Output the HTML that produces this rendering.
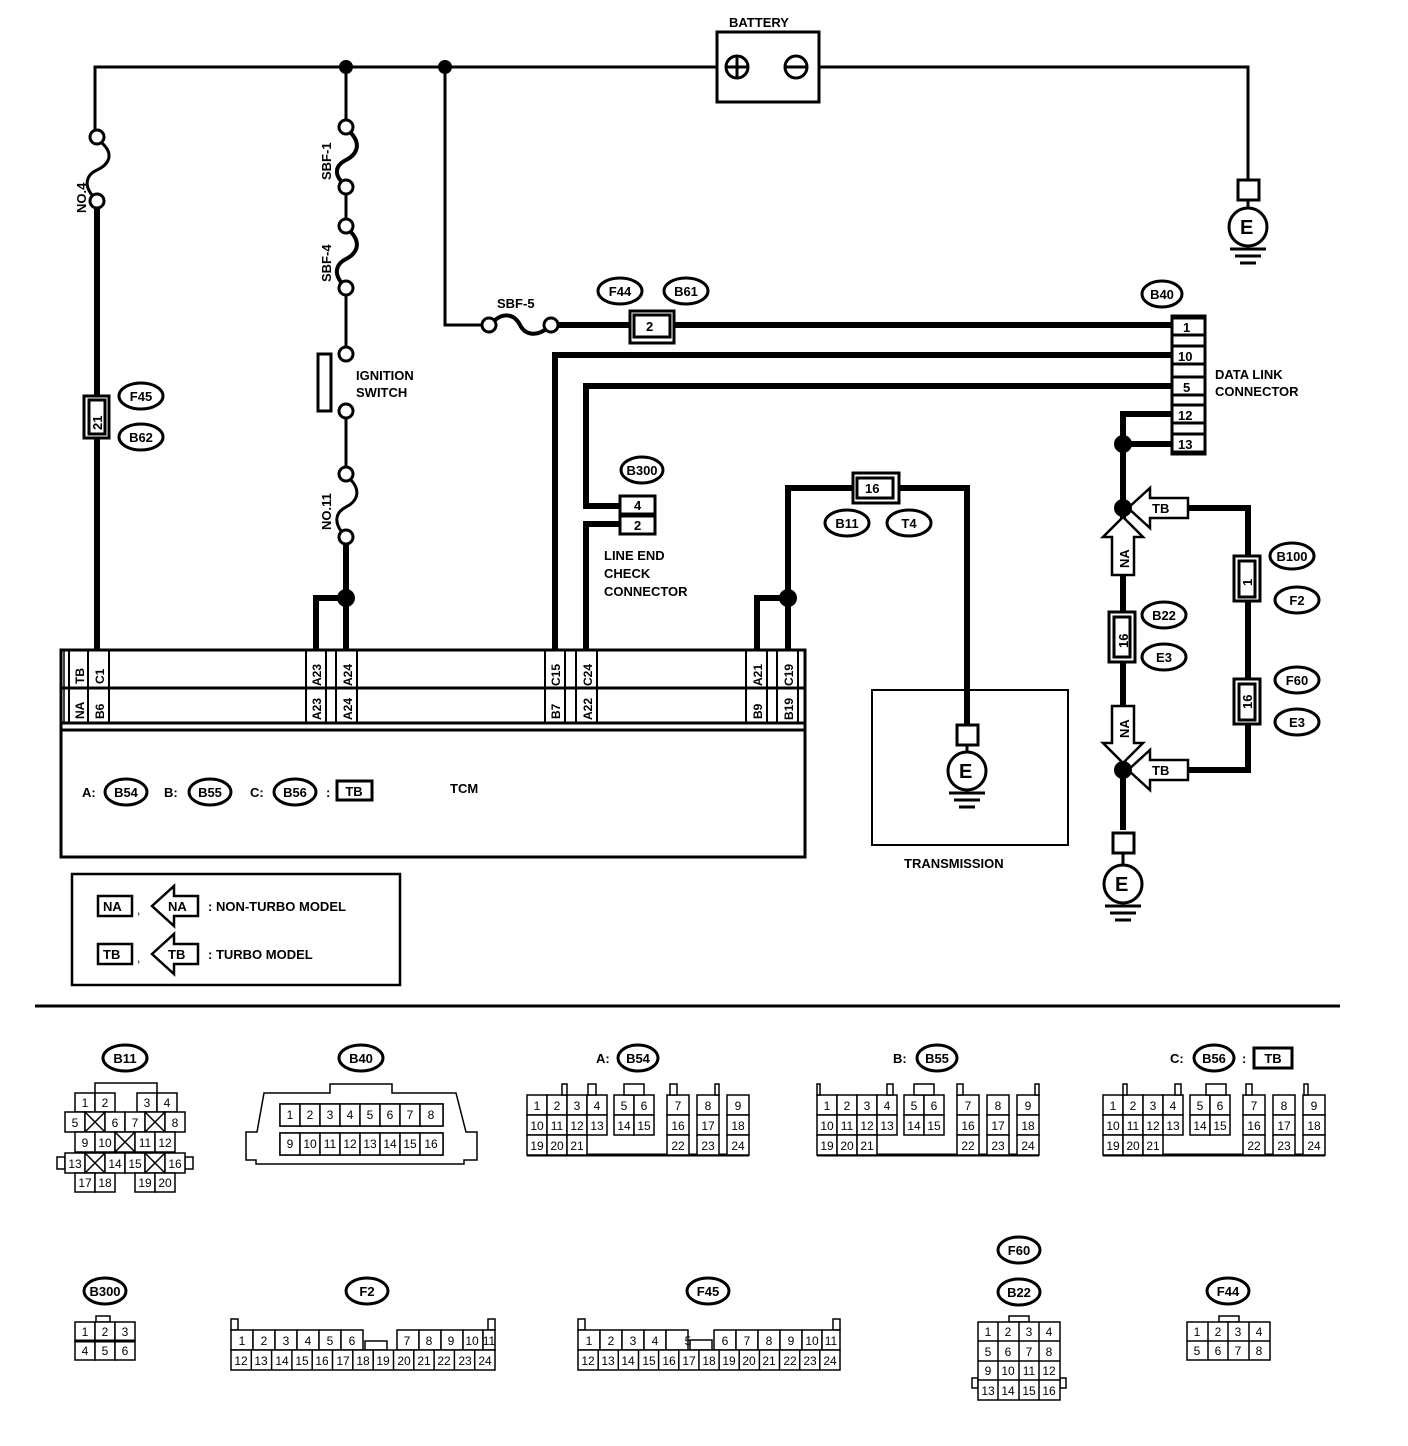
<!DOCTYPE html>
<html><head><meta charset="utf-8"><style>
html,body{margin:0;padding:0;background:#fff}
svg{display:block}
text{font-family:"Liberation Sans",sans-serif;font-weight:bold;fill:#000}
.t{font-size:13px}
.s{font-size:12px;font-weight:normal}
.c rect{fill:#fff;stroke:#000;stroke-width:1.5}
.c text{font-size:12px;font-weight:normal;text-anchor:middle}
</style></head><body>
<svg width="1408" height="1446" viewBox="0 0 1408 1446" xmlns="http://www.w3.org/2000/svg">
<g fill="none" stroke="#000">
<polyline points="95,130 95,67 717,67" stroke-width="3"/>
<polyline points="819,67 1248,67 1248,180" stroke-width="3"/>
<line x1="346" y1="67" x2="346" y2="120" stroke-width="3"/>
<polyline points="445,67 445,325 482,325" stroke-width="3"/>
<circle cx="97" cy="137" r="7" stroke-width="3" fill="#fff"/>
<circle cx="97" cy="201" r="7" stroke-width="3" fill="#fff"/>
<path d="M102,143 C115,155 108,165 97,170 C86,175 84,185 92,195" stroke-width="3"/>
<circle cx="346" cy="127" r="7" stroke-width="3" fill="#fff"/>
<circle cx="346" cy="187" r="7" stroke-width="3" fill="#fff"/>
<path d="M351,133 C362,145 356,155 346,160 C336,165 334,173 341,181" stroke-width="4"/>
<line x1="346" y1="194" x2="346" y2="219" stroke-width="3"/>
<circle cx="346" cy="226" r="7" stroke-width="3" fill="#fff"/>
<circle cx="346" cy="288" r="7" stroke-width="3" fill="#fff"/>
<path d="M351,232 C362,244 356,254 346,259 C336,264 334,273 341,282" stroke-width="4"/>
<line x1="346" y1="295" x2="346" y2="347" stroke-width="3"/>
<circle cx="346" cy="354" r="7" stroke-width="3" fill="#fff"/>
<circle cx="346" cy="411" r="7" stroke-width="3" fill="#fff"/>
<rect x="318" y="354" width="13" height="57" stroke-width="3" fill="#fff"/>
<line x1="346" y1="418" x2="346" y2="467" stroke-width="3"/>
<circle cx="346" cy="474" r="7" stroke-width="3" fill="#fff"/>
<circle cx="346" cy="537" r="7" stroke-width="3" fill="#fff"/>
<path d="M351,480 C362,492 356,502 346,507 C336,512 334,521 341,531" stroke-width="3"/>
<circle cx="489" cy="325" r="7" stroke-width="3" fill="#fff"/>
<circle cx="551" cy="325" r="7" stroke-width="3" fill="#fff"/>
<path d="M495,320 C505,312 515,315 520,325 C525,335 535,336 545,330" stroke-width="4"/>
<g stroke-width="6">
<line x1="97" y1="208" x2="97" y2="650"/>
<line x1="346" y1="544" x2="346" y2="650"/>
<polyline points="346,598 316,598 316,650"/>
<line x1="558" y1="325" x2="1172" y2="325"/>
<polyline points="1172,355 555,355 555,650"/>
<polyline points="1172,386 586,386 586,506 620,506"/>
<polyline points="620,524 586,524 586,650"/>
<polyline points="1172,414 1123,414 1123,830"/>
<line x1="1123" y1="444" x2="1172" y2="444"/>
<polyline points="1185,508 1248,508 1248,770 1185,770"/>
<polyline points="757,650 757,598 788,598"/>
<polyline points="788,650 788,488 967,488 967,725"/>
</g>
<rect x="717" y="32" width="102" height="70" stroke-width="3" fill="#fff"/>
<circle cx="737" cy="67" r="11" stroke-width="3"/>
<line x1="727" y1="67" x2="747" y2="67" stroke-width="3"/><line x1="737" y1="57" x2="737" y2="77" stroke-width="3"/>
<circle cx="796" cy="67" r="11" stroke-width="3"/>
<line x1="786" y1="67" x2="806" y2="67" stroke-width="3"/>
<g stroke-width="3">
<rect x="1238" y="180" width="21" height="20" fill="#fff"/><line x1="1248" y1="200" x2="1248" y2="208"/>
<circle cx="1248" cy="227" r="19" fill="#fff"/>
<line x1="1230" y1="249" x2="1266" y2="249"/><line x1="1235" y1="256" x2="1261" y2="256"/><line x1="1240" y1="263" x2="1256" y2="263"/>
<rect x="957" y="725" width="21" height="20" fill="#fff"/><line x1="967" y1="745" x2="967" y2="751"/>
<circle cx="967" cy="771" r="19" fill="#fff"/>
<line x1="949" y1="793" x2="985" y2="793"/><line x1="954" y1="800" x2="980" y2="800"/><line x1="959" y1="807" x2="975" y2="807"/>
<rect x="1113" y="833" width="21" height="20" fill="#fff"/><line x1="1123" y1="853" x2="1123" y2="864"/>
<circle cx="1123" cy="884" r="19" fill="#fff"/>
<line x1="1105" y1="906" x2="1141" y2="906"/><line x1="1110" y1="913" x2="1136" y2="913"/><line x1="1115" y1="920" x2="1131" y2="920"/>
</g>
<g stroke-width="3" fill="#fff">
<rect x="84" y="396" width="25" height="42"/><rect x="89" y="400" width="16" height="34"/>
<rect x="630" y="311" width="44" height="32"/><rect x="634" y="315" width="36" height="22"/>
<rect x="853" y="473" width="46" height="30"/><rect x="857" y="478" width="36" height="20"/>
<rect x="1109" y="612" width="26" height="50"/><rect x="1114" y="617" width="16" height="40"/>
<rect x="1234" y="556" width="26" height="45"/><rect x="1239" y="561" width="16" height="36"/>
<rect x="1234" y="679" width="26" height="45"/><rect x="1239" y="684" width="16" height="36"/>
<rect x="620" y="496" width="35" height="18"/><rect x="620" y="516" width="35" height="18"/>
<rect x="1172" y="316" width="33" height="138"/>
<rect x="1172" y="318" width="33" height="17"/><rect x="1172" y="346" width="33" height="18"/><rect x="1172" y="377" width="33" height="18"/><rect x="1172" y="405" width="33" height="18"/><rect x="1172" y="434" width="33" height="18"/>
</g>
<g stroke-width="2.5" fill="#fff">
<path d="M1128,508 L1150,488 L1150,498 L1188,498 L1188,518 L1150,518 L1150,528 Z"/>
<path d="M1128,770 L1150,750 L1150,760 L1188,760 L1188,780 L1150,780 L1150,790 Z"/>
<path d="M1123,517 L1143,537 L1134,537 L1134,575 L1112,575 L1112,537 L1103,537 Z"/>
<path d="M1123,763 L1143,743 L1134,743 L1134,706 L1112,706 L1112,743 L1103,743 Z"/>
</g>
<g stroke-width="3" fill="#fff">
<ellipse cx="141" cy="396" rx="22" ry="13"/><ellipse cx="141" cy="437" rx="22" ry="13"/>
<ellipse cx="620" cy="291" rx="22" ry="13"/><ellipse cx="686" cy="291" rx="22" ry="13"/>
<ellipse cx="1162" cy="294" rx="20" ry="13"/>
<ellipse cx="642" cy="470" rx="21" ry="13"/>
<ellipse cx="847" cy="523" rx="22" ry="13"/><ellipse cx="909" cy="523" rx="22" ry="13"/>
<ellipse cx="1292" cy="556" rx="22" ry="13"/><ellipse cx="1297" cy="600" rx="22" ry="13"/>
<ellipse cx="1164" cy="615" rx="22" ry="13"/><ellipse cx="1164" cy="657" rx="22" ry="13"/>
<ellipse cx="1297" cy="680" rx="22" ry="13"/><ellipse cx="1297" cy="722" rx="22" ry="13"/>
<ellipse cx="126" cy="792" rx="21" ry="13"/><ellipse cx="210" cy="792" rx="21" ry="13"/><ellipse cx="295" cy="792" rx="21" ry="13"/>
<ellipse cx="125" cy="1058" rx="22" ry="13"/><ellipse cx="361" cy="1058" rx="22" ry="13"/>
<ellipse cx="638" cy="1058" rx="20" ry="13"/><ellipse cx="937" cy="1058" rx="20" ry="13"/><ellipse cx="1214" cy="1058" rx="20" ry="13"/>
<ellipse cx="105" cy="1291" rx="21" ry="13"/><ellipse cx="367" cy="1291" rx="21" ry="13"/><ellipse cx="708" cy="1291" rx="21" ry="13"/>
<ellipse cx="1019" cy="1250" rx="21" ry="13"/><ellipse cx="1019" cy="1292" rx="21" ry="13"/><ellipse cx="1228" cy="1291" rx="21" ry="13"/>
</g>
<g stroke-width="3" fill="#fff">
<rect x="337" y="781" width="35" height="19"/>
<rect x="1254" y="1048" width="38" height="20"/>
</g>
<rect x="61" y="650" width="744" height="207" stroke-width="3"/>
<line x1="61" y1="688" x2="805" y2="688" stroke-width="3"/>
<line x1="61" y1="723" x2="805" y2="723" stroke-width="3"/>
<line x1="61" y1="730" x2="805" y2="730" stroke-width="3"/>
<line x1="64" y1="650" x2="64" y2="723" stroke-width="1.5"/>
<g stroke-width="2">
<line x1="69" y1="650" x2="69" y2="723"/><line x1="88" y1="650" x2="88" y2="723"/><line x1="109" y1="650" x2="109" y2="723"/>
<line x1="306" y1="650" x2="306" y2="723"/><line x1="326" y1="650" x2="326" y2="723"/><line x1="336" y1="650" x2="336" y2="723"/><line x1="357" y1="650" x2="357" y2="723"/>
<line x1="545" y1="650" x2="545" y2="723"/><line x1="565" y1="650" x2="565" y2="723"/><line x1="576" y1="650" x2="576" y2="723"/><line x1="597" y1="650" x2="597" y2="723"/>
<line x1="746" y1="650" x2="746" y2="723"/><line x1="767" y1="650" x2="767" y2="723"/><line x1="777" y1="650" x2="777" y2="723"/><line x1="798" y1="650" x2="798" y2="723"/>
</g>
<rect x="872" y="690" width="196" height="155" stroke-width="2"/>
<rect x="72" y="874" width="328" height="111" stroke-width="2.5"/>
<g stroke-width="2.5" fill="#fff">
<rect x="98" y="896" width="34" height="20"/>
<path d="M152,906 L174,886 L174,896 L198,896 L198,916 L174,916 L174,926 Z"/>
<rect x="98" y="944" width="34" height="20"/>
<path d="M152,954 L174,934 L174,944 L198,944 L198,964 L174,964 L174,974 Z"/>
</g>
<line x1="35" y1="1006" x2="1340" y2="1006" stroke-width="3"/>
</g>
<g fill="#000">
<circle cx="346" cy="67" r="7"/><circle cx="445" cy="67" r="7"/>
<circle cx="346" cy="598" r="9"/><circle cx="788" cy="598" r="9"/>
<circle cx="1123" cy="444" r="9"/><circle cx="1123" cy="508" r="9"/><circle cx="1123" cy="770" r="9"/>
</g>
<text x="729" y="27" class="t">BATTERY</text>
<text class="t" transform="translate(86,213) rotate(-90)">NO.4</text>
<text class="t" transform="translate(331,180) rotate(-90)">SBF-1</text>
<text class="t" transform="translate(331,282) rotate(-90)">SBF-4</text>
<text class="t" transform="translate(331,530) rotate(-90)">NO.11</text>
<text x="356" y="380" class="t">IGNITION</text><text x="356" y="397" class="t">SWITCH</text>
<text x="497" y="308" class="t">SBF-5</text>
<text x="646" y="331" class="t">2</text>
<text x="1183" y="332" class="t">1</text><text x="1178" y="361" class="t">10</text><text x="1183" y="392" class="t">5</text><text x="1178" y="420" class="t">12</text><text x="1178" y="449" class="t">13</text>
<text x="1215" y="379" class="t">DATA LINK</text><text x="1215" y="396" class="t">CONNECTOR</text>
<text x="634" y="510" class="t">4</text><text x="634" y="530" class="t">2</text>
<text x="604" y="560" class="t">LINE END</text><text x="604" y="578" class="t">CHECK</text><text x="604" y="596" class="t">CONNECTOR</text>
<text x="865" y="493" class="t">16</text>
<text x="904" y="868" class="t">TRANSMISSION</text>
<text x="959" y="778" style="font-size:20px">E</text><text x="1240" y="234" style="font-size:20px">E</text><text x="1115" y="891" style="font-size:20px">E</text>
<text class="t" transform="translate(102,430) rotate(-90)">21</text>
<text class="t" transform="translate(1128,648) rotate(-90)">16</text>
<text class="t" transform="translate(1252,586) rotate(-90)">1</text>
<text class="t" transform="translate(1252,709) rotate(-90)">16</text>
<text x="1152" y="513" class="t">TB</text><text x="1152" y="775" class="t">TB</text>
<text class="t" transform="translate(1129,568) rotate(-90)">NA</text>
<text class="t" transform="translate(1129,738) rotate(-90)">NA</text>
<g class="t" text-anchor="middle">
<text x="141" y="401">F45</text><text x="141" y="442">B62</text>
<text x="620" y="296">F44</text><text x="686" y="296">B61</text>
<text x="1162" y="299">B40</text><text x="642" y="475">B300</text>
<text x="847" y="528">B11</text><text x="909" y="528">T4</text>
<text x="1292" y="561">B100</text><text x="1297" y="605">F2</text>
<text x="1164" y="620">B22</text><text x="1164" y="662">E3</text>
<text x="1297" y="685">F60</text><text x="1297" y="727">E3</text>
<text x="126" y="797">B54</text><text x="210" y="797">B55</text><text x="295" y="797">B56</text><text x="354" y="796">TB</text>
<text x="125" y="1063">B11</text><text x="361" y="1063">B40</text><text x="638" y="1063">B54</text><text x="937" y="1063">B55</text><text x="1214" y="1063">B56</text><text x="1273" y="1063">TB</text>
<text x="105" y="1296">B300</text><text x="367" y="1296">F2</text><text x="708" y="1296">F45</text>
<text x="1019" y="1255">F60</text><text x="1019" y="1297">B22</text><text x="1228" y="1296">F44</text>
</g>
<text x="82" y="797" class="t">A:</text><text x="164" y="797" class="t">B:</text><text x="250" y="797" class="t">C:</text><text x="326" y="797" class="t">:</text>
<text x="450" y="793" class="t">TCM</text>
<text x="596" y="1063" class="t">A:</text><text x="893" y="1063" class="t">B:</text><text x="1170" y="1063" class="t">C:</text><text x="1242" y="1063" class="t">:</text>
<g style="font-size:12px;font-weight:bold">
<text transform="translate(84,684) rotate(-90)">TB</text><text transform="translate(104,684) rotate(-90)">C1</text>
<text transform="translate(84,719) rotate(-90)">NA</text><text transform="translate(104,719) rotate(-90)">B6</text>
<text transform="translate(321,686) rotate(-90)">A23</text><text transform="translate(352,686) rotate(-90)">A24</text>
<text transform="translate(321,720) rotate(-90)">A23</text><text transform="translate(352,720) rotate(-90)">A24</text>
<text transform="translate(560,686) rotate(-90)">C15</text><text transform="translate(592,686) rotate(-90)">C24</text>
<text transform="translate(560,719) rotate(-90)">B7</text><text transform="translate(592,720) rotate(-90)">A22</text>
<text transform="translate(762,686) rotate(-90)">A21</text><text transform="translate(793,686) rotate(-90)">C19</text>
<text transform="translate(762,719) rotate(-90)">B9</text><text transform="translate(793,720) rotate(-90)">B19</text>
</g>
<text x="103" y="911" class="t">NA</text><text x="168" y="911" class="t">NA</text><text x="137" y="914" class="s">,</text>
<text x="103" y="959" class="t">TB</text><text x="168" y="959" class="t">TB</text><text x="137" y="962" class="s">,</text>
<text x="208" y="911" class="t">: NON-TURBO MODEL</text>
<text x="208" y="959" class="t">: TURBO MODEL</text>

<g class="c">
<polyline points="95,1093 95,1083 157,1083 157,1093" fill="none" stroke="#000" stroke-width="1.5"/>
<rect x="75" y="1093" width="20" height="19"/><rect x="95" y="1093" width="20" height="19"/><rect x="137" y="1093" width="20" height="19"/><rect x="157" y="1093" width="20" height="19"/>
<text x="85" y="1107">1</text><text x="105" y="1107">2</text><text x="147" y="1107">3</text><text x="167" y="1107">4</text>
<rect x="65" y="1112" width="20" height="20"/><rect x="85" y="1112" width="20" height="20"/><rect x="105" y="1112" width="20" height="20"/><rect x="125" y="1112" width="20" height="20"/><rect x="145" y="1112" width="20" height="20"/><rect x="165" y="1112" width="20" height="20"/>
<text x="75" y="1127">5</text><text x="115" y="1127">6</text><text x="135" y="1127">7</text><text x="175" y="1127">8</text>
<rect x="75" y="1132" width="20" height="20"/><rect x="95" y="1132" width="20" height="20"/><rect x="115" y="1132" width="20" height="20"/><rect x="135" y="1132" width="20" height="20"/><rect x="155" y="1132" width="20" height="20"/>
<text x="85" y="1147">9</text><text x="105" y="1147">10</text><text x="145" y="1147">11</text><text x="165" y="1147">12</text>
<rect x="57" y="1157" width="8" height="12"/><rect x="185" y="1157" width="8" height="12"/>
<rect x="65" y="1153" width="20" height="20"/><rect x="85" y="1153" width="20" height="20"/><rect x="105" y="1153" width="20" height="20"/><rect x="125" y="1153" width="20" height="20"/><rect x="145" y="1153" width="20" height="20"/><rect x="165" y="1153" width="20" height="20"/>
<text x="75" y="1168">13</text><text x="115" y="1168">14</text><text x="135" y="1168">15</text><text x="175" y="1168">16</text>
<rect x="75" y="1173" width="20" height="19"/><rect x="95" y="1173" width="20" height="19"/><rect x="135" y="1173" width="20" height="19"/><rect x="155" y="1173" width="20" height="19"/>
<text x="85" y="1187">17</text><text x="105" y="1187">18</text><text x="145" y="1187">19</text><text x="165" y="1187">20</text>
<g stroke="#000" stroke-width="1.5">
<path d="M85,1112 L105,1132 M105,1112 L85,1132 M145,1112 L165,1132 M165,1112 L145,1132 M115,1132 L135,1152 M135,1132 L115,1152 M85,1153 L105,1173 M105,1153 L85,1173 M145,1153 L165,1173 M165,1153 L145,1173"/>
</g>
</g>
<g class="c">
<path d="M264,1093 L330,1093 L330,1084 L392,1084 L392,1093 L456,1093 L466,1132 L477,1132 L477,1160 L464,1160 L464,1164 L256,1164 L256,1160 L246,1160 L246,1132 L257,1132 Z" fill="none" stroke="#000" stroke-width="1.5"/>
<rect x="280" y="1104" width="163" height="22"/><rect x="280" y="1133" width="163" height="22"/>
<rect x="280" y="1104" width="20" height="22"/><rect x="300" y="1104" width="20" height="22"/><rect x="320" y="1104" width="20" height="22"/><rect x="340" y="1104" width="20" height="22"/><rect x="360" y="1104" width="20" height="22"/><rect x="380" y="1104" width="20" height="22"/><rect x="400" y="1104" width="20" height="22"/><rect x="420" y="1104" width="23" height="22"/>
<rect x="280" y="1133" width="20" height="22"/><rect x="300" y="1133" width="20" height="22"/><rect x="320" y="1133" width="20" height="22"/><rect x="340" y="1133" width="20" height="22"/><rect x="360" y="1133" width="20" height="22"/><rect x="380" y="1133" width="20" height="22"/><rect x="400" y="1133" width="20" height="22"/><rect x="420" y="1133" width="23" height="22"/>
<text x="290" y="1119">1</text><text x="310" y="1119">2</text><text x="330" y="1119">3</text><text x="350" y="1119">4</text><text x="370" y="1119">5</text><text x="390" y="1119">6</text><text x="410" y="1119">7</text><text x="431" y="1119">8</text>
<text x="290" y="1148">9</text><text x="310" y="1148">10</text><text x="330" y="1148">11</text><text x="350" y="1148">12</text><text x="370" y="1148">13</text><text x="390" y="1148">14</text><text x="410" y="1148">15</text><text x="431" y="1148">16</text>
</g>
<g class="c">
<line x1="527" y1="1155" x2="749" y2="1155" stroke="#000" stroke-width="3"/>
<rect x="527" y="1095" width="20" height="20"/><rect x="547" y="1095" width="20" height="20"/><rect x="567" y="1095" width="20" height="20"/><rect x="587" y="1095" width="20" height="20"/>
<rect x="614" y="1095" width="20" height="20"/><rect x="634" y="1095" width="20" height="20"/>
<rect x="667" y="1095" width="22" height="20"/><rect x="697" y="1095" width="22" height="20"/><rect x="727" y="1095" width="22" height="20"/>
<rect x="527" y="1115" width="20" height="20"/><rect x="547" y="1115" width="20" height="20"/><rect x="567" y="1115" width="20" height="20"/><rect x="587" y="1115" width="20" height="20"/>
<rect x="614" y="1115" width="20" height="20"/><rect x="634" y="1115" width="20" height="20"/>
<rect x="667" y="1115" width="22" height="20"/><rect x="697" y="1115" width="22" height="20"/><rect x="727" y="1115" width="22" height="20"/>
<rect x="527" y="1135" width="20" height="20"/><rect x="547" y="1135" width="20" height="20"/><rect x="567" y="1135" width="20" height="20"/>
<rect x="667" y="1135" width="22" height="20"/><rect x="697" y="1135" width="22" height="20"/><rect x="727" y="1135" width="22" height="20"/>
<rect x="562" y="1084" width="5" height="11"/><rect x="588" y="1084" width="8" height="11"/><rect x="624" y="1084" width="20" height="11"/><rect x="670" y="1084" width="7" height="11"/><rect x="715" y="1084" width="4" height="11"/>
<text x="537" y="1110">1</text><text x="557" y="1110">2</text><text x="577" y="1110">3</text><text x="597" y="1110">4</text><text x="624" y="1110">5</text><text x="644" y="1110">6</text><text x="678" y="1110">7</text><text x="708" y="1110">8</text><text x="738" y="1110">9</text>
<text x="537" y="1130">10</text><text x="557" y="1130">11</text><text x="577" y="1130">12</text><text x="597" y="1130">13</text><text x="624" y="1130">14</text><text x="644" y="1130">15</text><text x="678" y="1130">16</text><text x="708" y="1130">17</text><text x="738" y="1130">18</text>
<text x="537" y="1150">19</text><text x="557" y="1150">20</text><text x="577" y="1150">21</text><text x="678" y="1150">22</text><text x="708" y="1150">23</text><text x="738" y="1150">24</text>
</g>
<g class="c" transform="translate(290,0)">
<line x1="527" y1="1155" x2="749" y2="1155" stroke="#000" stroke-width="3"/>
<rect x="527" y="1095" width="20" height="20"/><rect x="547" y="1095" width="20" height="20"/><rect x="567" y="1095" width="20" height="20"/><rect x="587" y="1095" width="20" height="20"/>
<rect x="614" y="1095" width="20" height="20"/><rect x="634" y="1095" width="20" height="20"/>
<rect x="667" y="1095" width="22" height="20"/><rect x="697" y="1095" width="22" height="20"/><rect x="727" y="1095" width="22" height="20"/>
<rect x="527" y="1115" width="20" height="20"/><rect x="547" y="1115" width="20" height="20"/><rect x="567" y="1115" width="20" height="20"/><rect x="587" y="1115" width="20" height="20"/>
<rect x="614" y="1115" width="20" height="20"/><rect x="634" y="1115" width="20" height="20"/>
<rect x="667" y="1115" width="22" height="20"/><rect x="697" y="1115" width="22" height="20"/><rect x="727" y="1115" width="22" height="20"/>
<rect x="527" y="1135" width="20" height="20"/><rect x="547" y="1135" width="20" height="20"/><rect x="567" y="1135" width="20" height="20"/>
<rect x="667" y="1135" width="22" height="20"/><rect x="697" y="1135" width="22" height="20"/><rect x="727" y="1135" width="22" height="20"/>
<rect x="527" y="1084" width="3" height="11"/><rect x="597" y="1084" width="6" height="11"/><rect x="624" y="1084" width="20" height="11"/><rect x="667" y="1084" width="6" height="11"/><rect x="745" y="1084" width="4" height="11"/>
<text x="537" y="1110">1</text><text x="557" y="1110">2</text><text x="577" y="1110">3</text><text x="597" y="1110">4</text><text x="624" y="1110">5</text><text x="644" y="1110">6</text><text x="678" y="1110">7</text><text x="708" y="1110">8</text><text x="738" y="1110">9</text>
<text x="537" y="1130">10</text><text x="557" y="1130">11</text><text x="577" y="1130">12</text><text x="597" y="1130">13</text><text x="624" y="1130">14</text><text x="644" y="1130">15</text><text x="678" y="1130">16</text><text x="708" y="1130">17</text><text x="738" y="1130">18</text>
<text x="537" y="1150">19</text><text x="557" y="1150">20</text><text x="577" y="1150">21</text><text x="678" y="1150">22</text><text x="708" y="1150">23</text><text x="738" y="1150">24</text>
</g>
<g class="c" transform="translate(576,0)">
<line x1="527" y1="1155" x2="749" y2="1155" stroke="#000" stroke-width="3"/>
<rect x="527" y="1095" width="20" height="20"/><rect x="547" y="1095" width="20" height="20"/><rect x="567" y="1095" width="20" height="20"/><rect x="587" y="1095" width="20" height="20"/>
<rect x="614" y="1095" width="20" height="20"/><rect x="634" y="1095" width="20" height="20"/>
<rect x="667" y="1095" width="22" height="20"/><rect x="697" y="1095" width="22" height="20"/><rect x="727" y="1095" width="22" height="20"/>
<rect x="527" y="1115" width="20" height="20"/><rect x="547" y="1115" width="20" height="20"/><rect x="567" y="1115" width="20" height="20"/><rect x="587" y="1115" width="20" height="20"/>
<rect x="614" y="1115" width="20" height="20"/><rect x="634" y="1115" width="20" height="20"/>
<rect x="667" y="1115" width="22" height="20"/><rect x="697" y="1115" width="22" height="20"/><rect x="727" y="1115" width="22" height="20"/>
<rect x="527" y="1135" width="20" height="20"/><rect x="547" y="1135" width="20" height="20"/><rect x="567" y="1135" width="20" height="20"/>
<rect x="667" y="1135" width="22" height="20"/><rect x="697" y="1135" width="22" height="20"/><rect x="727" y="1135" width="22" height="20"/>
<rect x="547" y="1084" width="4" height="11"/><rect x="599" y="1084" width="6" height="11"/><rect x="630" y="1084" width="20" height="11"/><rect x="670" y="1084" width="6" height="11"/><rect x="728" y="1084" width="4" height="11"/>
<text x="537" y="1110">1</text><text x="557" y="1110">2</text><text x="577" y="1110">3</text><text x="597" y="1110">4</text><text x="624" y="1110">5</text><text x="644" y="1110">6</text><text x="678" y="1110">7</text><text x="708" y="1110">8</text><text x="738" y="1110">9</text>
<text x="537" y="1130">10</text><text x="557" y="1130">11</text><text x="577" y="1130">12</text><text x="597" y="1130">13</text><text x="624" y="1130">14</text><text x="644" y="1130">15</text><text x="678" y="1130">16</text><text x="708" y="1130">17</text><text x="738" y="1130">18</text>
<text x="537" y="1150">19</text><text x="557" y="1150">20</text><text x="577" y="1150">21</text><text x="678" y="1150">22</text><text x="708" y="1150">23</text><text x="738" y="1150">24</text>
</g>
<g class="c">
<rect x="96" y="1316" width="14" height="6"/>
<rect x="75" y="1322" width="20" height="19"/><rect x="95" y="1322" width="20" height="19"/><rect x="115" y="1322" width="20" height="19"/>
<rect x="75" y="1341" width="20" height="19"/><rect x="95" y="1341" width="20" height="19"/><rect x="115" y="1341" width="20" height="19"/>
<line x1="75" y1="1341" x2="135" y2="1341" stroke="#000" stroke-width="3"/>
<text x="85" y="1336">1</text><text x="105" y="1336">2</text><text x="125" y="1336">3</text><text x="85" y="1355">4</text><text x="105" y="1355">5</text><text x="125" y="1355">6</text>
</g>
<!-- F2 -->
<g class="c">
<rect x="231" y="1319" width="7" height="11"/><rect x="488" y="1319" width="7" height="11"/>
<rect x="365" y="1341" width="22" height="9"/>
<rect x="231" y="1330" width="22" height="20"/><rect x="253" y="1330" width="22" height="20"/><rect x="275" y="1330" width="22" height="20"/><rect x="297" y="1330" width="22" height="20"/><rect x="319" y="1330" width="22" height="20"/><rect x="341" y="1330" width="22" height="20"/>
<rect x="397" y="1330" width="22" height="20"/><rect x="419" y="1330" width="22" height="20"/><rect x="441" y="1330" width="22" height="20"/><rect x="463" y="1330" width="20" height="20"/><rect x="483" y="1330" width="12" height="20"/>
<rect x="231" y="1350" width="264" height="20"/>
<text x="242" y="1345">1</text><text x="264" y="1345">2</text><text x="286" y="1345">3</text><text x="308" y="1345">4</text><text x="330" y="1345">5</text><text x="352" y="1345">6</text><text x="407" y="1345">7</text><text x="429" y="1345">8</text><text x="451" y="1345">9</text><text x="472" y="1345">10</text><text x="489" y="1345">11</text>
<g stroke="#000" stroke-width="1.5"><path d="M251.3,1350v20M271.6,1350v20M291.9,1350v20M312.2,1350v20M332.5,1350v20M352.8,1350v20M373.2,1350v20M393.5,1350v20M413.8,1350v20M434.1,1350v20M454.4,1350v20M474.7,1350v20"/></g>
<text x="241" y="1365">12</text><text x="261" y="1365">13</text><text x="282" y="1365">14</text><text x="302" y="1365">15</text><text x="322" y="1365">16</text><text x="343" y="1365">17</text><text x="363" y="1365">18</text><text x="383" y="1365">19</text><text x="404" y="1365">20</text><text x="424" y="1365">21</text><text x="444" y="1365">22</text><text x="465" y="1365">23</text><text x="485" y="1365">24</text>
</g>
<!-- F45 -->
<g class="c">
<rect x="578" y="1319" width="7" height="11"/><rect x="833" y="1319" width="7" height="11"/>
<rect x="690" y="1340" width="22" height="10"/>
<rect x="578" y="1330" width="22" height="20"/><rect x="600" y="1330" width="22" height="20"/><rect x="622" y="1330" width="22" height="20"/><rect x="644" y="1330" width="22" height="20"/><rect x="666" y="1330" width="22" height="20"/>
<rect x="714" y="1330" width="22" height="20"/><rect x="736" y="1330" width="22" height="20"/><rect x="758" y="1330" width="22" height="20"/><rect x="780" y="1330" width="22" height="20"/><rect x="802" y="1330" width="20" height="20"/><rect x="822" y="1330" width="18" height="20"/>
<rect x="578" y="1350" width="262" height="20"/>
<g stroke="#000" stroke-width="1.5"><path d="M598.2,1350v20M618.3,1350v20M638.5,1350v20M658.6,1350v20M678.8,1350v20M698.9,1350v20M719.1,1350v20M739.2,1350v20M759.4,1350v20M779.5,1350v20M799.7,1350v20M819.8,1350v20"/></g>
<text x="688" y="1345">5</text>
<text x="589" y="1345">1</text><text x="611" y="1345">2</text><text x="633" y="1345">3</text><text x="655" y="1345">4</text><text x="725" y="1345">6</text><text x="747" y="1345">7</text><text x="769" y="1345">8</text><text x="791" y="1345">9</text><text x="812" y="1345">10</text><text x="831" y="1345">11</text>
<text x="588" y="1365">12</text><text x="608" y="1365">13</text><text x="628" y="1365">14</text><text x="649" y="1365">15</text><text x="669" y="1365">16</text><text x="689" y="1365">17</text><text x="709" y="1365">18</text><text x="729" y="1365">19</text><text x="749" y="1365">20</text><text x="769" y="1365">21</text><text x="790" y="1365">22</text><text x="810" y="1365">23</text><text x="830" y="1365">24</text>
</g>
<g class="c">
<rect x="1009" y="1316" width="20" height="6"/>
<rect x="972" y="1378" width="6" height="10"/><rect x="1060" y="1378" width="6" height="10"/>
<rect x="978" y="1322" width="82" height="78"/>
<g stroke="#000" stroke-width="1.5"><path d="M998,1322v78M1019,1322v78M1039,1322v78M978,1341h82M978,1361h82M978,1380h82"/></g>
<text x="988" y="1336">1</text><text x="1008" y="1336">2</text><text x="1029" y="1336">3</text><text x="1049" y="1336">4</text>
<text x="988" y="1356">5</text><text x="1008" y="1356">6</text><text x="1029" y="1356">7</text><text x="1049" y="1356">8</text>
<text x="988" y="1375">9</text><text x="1008" y="1375">10</text><text x="1029" y="1375">11</text><text x="1049" y="1375">12</text>
<text x="988" y="1395">13</text><text x="1008" y="1395">14</text><text x="1029" y="1395">15</text><text x="1049" y="1395">16</text>
</g>
<g class="c">
<rect x="1219" y="1316" width="20" height="6"/>
<rect x="1187" y="1322" width="83" height="38"/>
<g stroke="#000" stroke-width="1.5"><path d="M1208,1322v38M1228,1322v38M1249,1322v38M1187,1341h83"/></g>
<text x="1197" y="1336">1</text><text x="1218" y="1336">2</text><text x="1238" y="1336">3</text><text x="1259" y="1336">4</text>
<text x="1197" y="1355">5</text><text x="1218" y="1355">6</text><text x="1238" y="1355">7</text><text x="1259" y="1355">8</text>
</g>
</svg>
</body></html>
